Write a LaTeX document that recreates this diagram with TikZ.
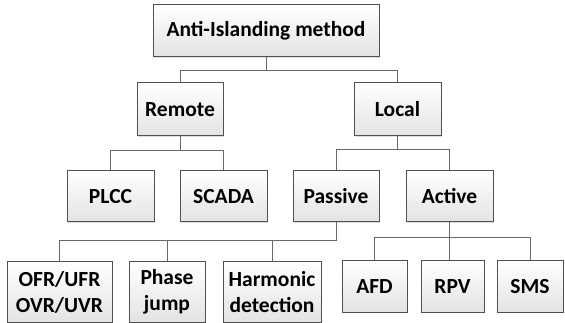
\documentclass[tikz,border=0pt]{standalone}
\usepackage{fontspec}
\setmainfont{Carlito}
\usepackage{xcolor}
\usetikzlibrary{positioning,calc,shadows}

\definecolor{boxline}{HTML}{505050}
\definecolor{wireline}{HTML}{686868}

\begin{document}
\begin{tikzpicture}[x=1pt,y=-1pt,
box/.style={rectangle,draw=boxline,line width=1pt,inner sep=0pt,align=center,
  top color=white,bottom color=gray!22,
  drop shadow={shadow xshift=1.2pt,shadow yshift=-1.2pt,opacity=0.25},
  font=\fontsize{21.5}{26}\selectfont\bfseries},
wire/.style={draw=wireline,line width=1pt}]

\useasboundingbox (0,0) rectangle (565,323);

\node[box,minimum width=226pt,minimum height=52pt] (top) at (266,31) {Anti-Islanding method};
\node[box,minimum width=86pt,minimum height=53pt] (remote) at (180,109.5) {Remote};
\node[box,minimum width=87pt,minimum height=53pt] (local) at (397.5,109.5) {Local};
\node[box,minimum width=87pt,minimum height=51pt] (plcc) at (110.5,196.5) {PLCC};
\node[box,minimum width=87pt,minimum height=51pt] (scada) at (223.5,196.5) {SCADA};
\node[box,minimum width=86pt,minimum height=51pt] (passive) at (336,196.5) {Passive};
\node[box,minimum width=87pt,minimum height=51pt] (active) at (449.5,196.5) {Active};
\node[box,minimum width=105pt,minimum height=60pt] (ofr) at (59.5,292) {OFR/UFR\\OVR/UVR};
\node[box,minimum width=76pt,minimum height=60pt] (phase) at (167,292) {Phase\\jump};
\node[box,minimum width=98pt,minimum height=60pt] (harm) at (272,292) {Harmonic\\detection};
\node[box,minimum width=65pt,minimum height=51pt] (afd) at (374.5,286.5) {AFD};
\node[box,minimum width=63pt,minimum height=51pt] (rpv) at (452.5,286.5) {RPV};
\node[box,minimum width=66pt,minimum height=51pt] (sms) at (530,286.5) {SMS};

\coordinate (b0) at (266,71);
\coordinate (b1) at (180,151);
\coordinate (b2) at (397.5,150);
\coordinate (b3) at (336,241);
\coordinate (b4) at (449.5,238);

\draw[wire] (top.south) -- (b0) -| (remote.north);
\draw[wire] (b0) -| (local.north);
\draw[wire] (remote.south) -- (b1) -| (plcc.north);
\draw[wire] (b1) -| (scada.north);
\draw[wire] (local.south) -- (b2) -| (passive.north);
\draw[wire] (b2) -| (active.north);
\draw[wire] (passive.south) -- (b3) -| (ofr.north);
\draw[wire] (b3) -| (phase.north);
\draw[wire] (b3) -| (harm.north);
\draw[wire] (active.south) -- (b4) -| (afd.north);
\draw[wire] (b4) -- (b4 |- rpv.north);
\draw[wire] (b4) -| (sms.north);
\end{tikzpicture}
\end{document}
